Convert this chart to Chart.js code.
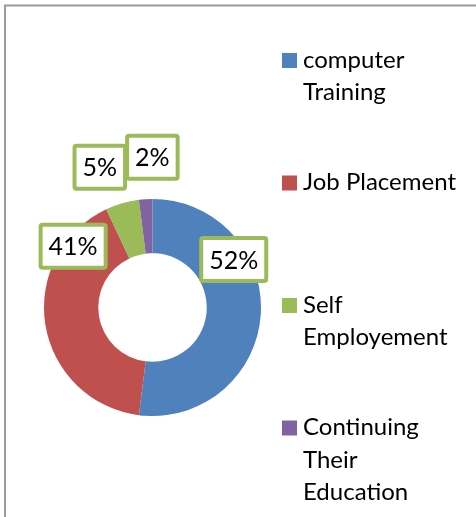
<!DOCTYPE html>
<html>
<head>
<meta charset="utf-8">
<script src="https://cdn.jsdelivr.net/npm/chart.js@4/dist/chart.umd.min.js"></script>
<style>
	body { margin: 0; background: #fff; }
	#grafico { display: block; }
</style>
</head>
<body>
<canvas id="grafico" width="476" height="517"></canvas>
<script>
	// datos del gráfico
	const categorias = ['computer Training', 'Job Placement', 'Self Employement', 'Continuing Their Education']
	const lineasLeyenda = [['computer', 'Training'], ['Job Placement'], ['Self', 'Employement'], ['Continuing', 'Their', 'Education']]
	const porcentajes = [52, 41, 5, 2]
	const colores = ['#4F81BD', '#C0504D', '#9BBB59', '#8064A2']

	// desplazamiento de cada etiqueta respecto al centro del sector
	const desplazamientos = [[0, -53], [1, -74], [-30, -62], [5, -69]]

	const fuente = 'Lato, "Open Sans", sans-serif'

	// marco gris del gráfico
	const marco = {
		id: 'marco',
		beforeDraw(chart) {
			const ctx = chart.ctx
			ctx.save()
			ctx.strokeStyle = '#9a9a9a'
			ctx.lineWidth = 2
			ctx.strokeRect(5, 5.5, 700, 700)
			ctx.restore()
		}
	}

	// etiquetas con recuadro verde
	const etiquetas = {
		id: 'etiquetas',
		afterDatasetsDraw(chart) {
			const ctx = chart.ctx
			const meta = chart.getDatasetMeta(0)
			ctx.save()
			ctx.font = '25px ' + fuente
			ctx.textAlign = 'center'
			ctx.textBaseline = 'middle'
			meta.data.forEach((arco, i) => {
				const pos = arco.tooltipPosition()
				const x = pos.x + desplazamientos[i][0]
				const y = pos.y + desplazamientos[i][1]
				const texto = porcentajes[i] + '%'
				const ancho = ctx.measureText(texto).width + 16
				const alto = 43
				ctx.fillStyle = '#fff'
				ctx.strokeStyle = '#9BBB59'
				ctx.lineWidth = 4
				ctx.beginPath()
				ctx.roundRect(x - ancho / 2, y - alto / 2, ancho, alto, 2)
				ctx.fill()
				ctx.stroke()
				ctx.fillStyle = '#000'
				ctx.fillText(texto, x, y + 1)
			})
			ctx.restore()
		}
	}

	// leyenda a la derecha
	const leyenda = {
		id: 'leyenda',
		afterDraw(chart) {
			const ctx = chart.ctx
			ctx.save()
			ctx.font = '24px ' + fuente
			ctx.textBaseline = 'middle'
			lineasLeyenda.forEach((lineas, i) => {
				const y0 = 60 + i * 122.5
				ctx.fillStyle = colores[i]
				ctx.fillRect(282, y0 - 7, 15, 15)
				ctx.fillStyle = '#000'
				lineas.forEach((linea, j) => {
					ctx.fillText(linea, 303, y0 + j * 32.5)
				})
			})
			ctx.restore()
		}
	}

	const config = {
		type: 'doughnut',
		data: {
			labels: categorias,
			datasets: [{
				data: porcentajes,
				backgroundColor: colores,
				borderWidth: 0
			}]
		},
		options: {
			responsive: false,
			animation: false,
			cutout: '50%',
			layout: { padding: { left: 44, right: 215, top: 199, bottom: 101 } },
			plugins: {
				legend: { display: false },
				tooltip: { enabled: false }
			}
		},
		plugins: [marco, etiquetas, leyenda]
	}

	let grafico = new Chart(document.querySelector('#grafico'), config)
</script>
</body>
</html>
